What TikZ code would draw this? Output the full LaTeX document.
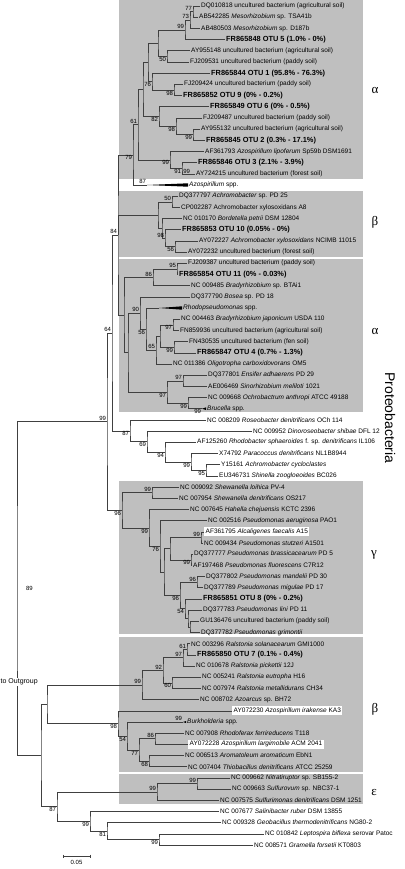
\documentclass[tikz,border=0pt]{standalone}
\usepackage{fontspec}
\setmainfont{Liberation Sans}
\newfontfamily\greekfont{Liberation Serif}
\usetikzlibrary{calc}

% elbow clade: name, x, upper child, lower child
\newcommand{\clade}[4]{%
  \coordinate (#1m) at ($(#3)!0.5!(#4)$);
  \coordinate (#1) at (#2,0 |- #1m);
  \draw[branch] (#3) -| (#1) |- (#4);}

\begin{document}
\begin{tikzpicture}[x=1pt,y=-1pt]

  % Definitions
  \tikzstyle{leaf} = [anchor=west, inner sep=1pt, font=\fontsize{6.5}{7}\selectfont]
  \tikzstyle{otu} = [anchor=west, inner sep=1pt, font=\fontsize{7.4}{8}\selectfont\bfseries]
  \tikzstyle{white} = [leaf, fill=white, inner sep=1.5pt]
  \tikzstyle{branch} = [draw=black!75, line width=0.5pt]
  \tikzstyle{bsup} = [anchor=south east, inner sep=0.8pt, font=\fontsize{6}{7}\selectfont]
  \tikzstyle{bsdown} = [anchor=north east, inner sep=0.8pt, font=\fontsize{6}{7}\selectfont]
  \tikzstyle{box} = [fill=black!25]
  \tikzstyle{greek} = [font=\fontsize{13}{13}\greekfont]

  \useasboundingbox (0,0) rectangle (404,869);

  \fill[box] (119,0) rectangle (363,179);
  \fill[box] (119,191) rectangle (363,257);
  \fill[box] (119,259) rectangle (363,412);
  \fill[box] (119,481) rectangle (363,634);
  \fill[box] (119,637) rectangle (363,772);
  \fill[box] (119,774) rectangle (363,804);

  \node[greek] (alpha1) at (375,90) {α};
  \node[greek] (beta1) at (375,222) {β};
  \node[greek] (alpha2) at (375,331) {α};
  \node[greek] (gamma) at (374,555) {γ};
  \node[greek] (beta2) at (375,709) {β};
  \node[greek] (eps) at (374,792) {ε};
  \node[rotate=-90, font=\fontsize{14}{14}\selectfont] (proteo) at (390,418) {Proteobacteria};

  % leaves
  \node[leaf] (DQ010818) at (200,6.0) {DQ010818 uncultured bacterium (agricultural soil)};
  \node[leaf] (AB542285) at (198,17.2) {AB542285 \textit{Mesorhizobium} sp. TSA41b};
  \node[leaf] (AB480503) at (200,28.4) {AB480503 \textit{Mesorhizobium} sp. D187b};
  \node[otu] (OTU5) at (225,39.6) {FR865848 OTU 5 (1.0\% - 0\%)};
  \node[leaf] (AY955148) at (190,50.7) {AY955148 uncultured bacterium (agricultural soil)};
  \node[leaf] (FJ209531) at (189,61.9) {FJ209531 uncultured bacterium (paddy soil)};
  \node[otu] (OTU1) at (210,73.1) {FR865844 OTU 1 (95.8\% - 76.3\%)};
  \node[leaf] (FJ209424) at (183,84.3) {FJ209424 uncultured bacterium (paddy soil)};
  \node[otu] (OTU9) at (182,95.5) {FR865852 OTU 9 (0\% - 0.2\%)};
  \node[otu] (OTU6) at (209,106.7) {FR865849 OTU 6 (0\% - 0.5\%)};
  \node[leaf] (FJ209487) at (202,117.9) {FJ209487 uncultured bacterium (paddy soil)};
  \node[leaf] (AY955132) at (200,129.1) {AY955132 uncultured bacterium (agricultural soil)};
  \node[otu] (OTU2) at (205,140.2) {FR865845 OTU 2 (0.3\% - 17.1\%)};
  \node[leaf] (AF361793) at (204,151.4) {AF361793 \textit{Azospirillum lipoferum} Sp59b DSM1691};
  \node[otu] (OTU3) at (197,162.6) {FR865846 OTU 3 (2.1\% - 3.9\%)};
  \node[leaf] (AY724215) at (195,173.8) {AY724215 uncultured bacterium (forest soil)};
  \node[leaf] (Azospirillum) at (188,185.0) {\textit{Azospirillum} spp.};
  \node[leaf] (DQ377797) at (178,196.2) {DQ377797 \textit{Achromobacter} sp. PD 25};
  \node[leaf] (CP002287) at (180,207.4) {CP002287 Achromobacter xylosoxidans A8};
  \node[leaf] (NC010170) at (182,218.6) {NC 010170 \textit{Bordetella petrii} DSM 12804};
  \node[otu] (OTU10) at (181,229.7) {FR865853 OTU 10 (0.05\% - 0\%)};
  \node[leaf] (AY072227) at (198,240.9) {AY072227 \textit{Achromobacter xylosoxidans} NCIMB 11015};
  \node[leaf] (AY072232) at (187,252.1) {AY072232 uncultured bacterium (forest soil)};
  \node[leaf] (FJ209387) at (187,263.3) {FJ209387 uncultured bacterium (paddy soil)};
  \node[otu] (OTU11) at (178,274.5) {FR865854 OTU 11 (0\% - 0.03\%)};
  \node[leaf] (NC009485) at (190,285.7) {NC 009485 \textit{Bradyrhizobium} sp. BTAi1};
  \node[leaf] (DQ377790) at (190,296.9) {DQ377790 \textit{Bosea} sp. PD 18};
  \node[leaf] (Rhodopseudomonas) at (182,308.0) {\textit{Rhodopseudomonas} spp.};
  \node[leaf] (NC004463) at (180,319.2) {NC 004463 \textit{Bradyrhizobium japonicum} USDA 110};
  \node[leaf] (FN859936) at (179,330.4) {FN859936 uncultured bacterium (agricultural soil)};
  \node[leaf] (FN430535) at (188,341.6) {FN430535 uncultured bacterium (fen soil)};
  \node[otu] (OTU4) at (196,352.8) {FR865847 OTU 4 (0.7\% - 1.3\%)};
  \node[leaf] (NC011386) at (172,364.0) {NC 011386 \textit{Oligotropha carboxidovorans} OM5};
  \node[leaf] (DQ377801) at (207,375.2) {DQ377801 \textit{Ensifer adhaerens} PD 29};
  \node[leaf] (AE006469) at (207,386.4) {AE006469 \textit{Sinorhizobium meliloti} 1021};
  \node[leaf] (NC009668) at (207,397.5) {NC 009668 \textit{Ochrobactrum anthropi} ATCC 49188};
  \node[leaf] (Brucella) at (206,408.7) {\textit{Brucella} spp.};
  \node[leaf] (NC008209) at (206,419.9) {NC 008209 \textit{Roseobacter denitrificans} OCh 114};
  \node[leaf] (NC009952) at (252,431.1) {NC 009952 \textit{Dinoroseobacter shibae} DFL 12};
  \node[leaf] (AF125260) at (196,442.3) {AF125260 \textit{Rhodobacter sphaeroides} f. sp. \textit{denitrificans} IL106};
  \node[leaf] (X74792) at (218,453.5) {X74792 \textit{Paracoccus denitrificans} NL1B8944};
  \node[leaf] (Y15161) at (220,464.7) {Y15161 \textit{Achromobacter cycloclastes}};
  \node[leaf] (EU346731) at (218,475.9) {EU346731 \textit{Shinella zoogloeoides} BC026};
  \node[leaf] (NC009092) at (179,487.0) {NC 009092 \textit{Shewanella loihica} PV-4};
  \node[leaf] (NC007954) at (178,498.2) {NC 007954 \textit{Shewanella denitrificans} OS217};
  \node[leaf] (NC007645) at (189,509.4) {NC 007645 \textit{Hahella chejuensis} KCTC 2396};
  \node[leaf] (NC002516) at (207,520.6) {NC 002516 \textit{Pseudomonas aeruginosa} PAO1};
  \node[white] (AF361795) at (204,531.8) {AF361795 \textit{Alcaligenes faecalis} A15};
  \node[leaf] (NC009434) at (203,543.0) {NC 009434 \textit{Pseudomonas stutzeri} A1501};
  \node[leaf] (DQ377777) at (193,554.2) {DQ377777 \textit{Pseudomonas brassicacearum} PD 5};
  \node[leaf] (AF197468) at (192,565.3) {AF197468 \textit{Pseudomonas fluorescens} C7R12};
  \node[leaf] (DQ377802) at (205,576.5) {DQ377802 \textit{Pseudomonas mandelii} PD 30};
  \node[leaf] (DQ377789) at (203,587.7) {DQ377789 \textit{Pseudomonas migulae} PD 17};
  \node[otu] (OTU8) at (202,598.9) {FR865851 OTU 8 (0\% - 0.2\%)};
  \node[leaf] (DQ377783) at (202,610.1) {DQ377783 \textit{Pseudomonas lini} PD 11};
  \node[leaf] (GU136476) at (199,621.3) {GU136476 uncultured bacterium (paddy soil)};
  \node[leaf] (DQ377782) at (200,632.5) {DQ377782 \textit{Pseudomonas grimontii}};
  \node[leaf] (NC003296) at (190,643.7) {NC 003296 \textit{Ralstonia solanacearum} GMI1000};
  \node[otu] (OTU7) at (196,654.8) {FR865850 OTU 7 (0.1\% - 0.4\%)};
  \node[leaf] (NC010678) at (195,666.0) {NC 010678 \textit{Ralstonia pickettii} 12J};
  \node[leaf] (NC005241) at (201,677.2) {NC 005241 \textit{Ralstonia eutropha} H16};
  \node[leaf] (NC007974) at (201,688.4) {NC 007974 \textit{Ralstonia metallidurans} CH34};
  \node[leaf] (NC008702) at (199,699.6) {NC 008702 \textit{Azoarcus} sp. BH72};
  \node[white] (AY072230) at (232,710.8) {AY072230 \textit{Azospirillum irakense} KA3};
  \node[leaf] (Burkholderia) at (186,722.0) {\textit{Burkholderia} spp.};
  \node[leaf] (NC007908) at (184,733.1) {NC 007908 \textit{Rhodoferax ferrireducens} T118};
  \node[white] (AY072228) at (188,744.3) {AY072228 \textit{Azospirillum largimobile} ACM 2041};
  \node[leaf] (NC006513) at (184,755.5) {NC 006513 \textit{Aromatoleum aromaticum} EbN1};
  \node[leaf] (NC007404) at (187,766.7) {NC 007404 \textit{Thiobacillus denitrificans} ATCC 25259};
  \node[leaf] (NC009662) at (230,777.9) {NC 009662 \textit{Nitratiruptor} sp. SB155-2};
  \node[leaf] (NC009663) at (231,789.1) {NC 009663 \textit{Sulfurovum} sp. NBC37-1};
  \node[leaf] (NC007575) at (219,800.3) {NC 007575 \textit{Sulfurimonas denitrificans} DSM 1251};
  \node[leaf] (NC007677) at (219,811.5) {NC 007677 \textit{Salinibacter ruber} DSM 13855};
  \node[leaf] (NC009328) at (221,822.6) {NC 009328 \textit{Geobacillus thermodenitrificans} NG80-2};
  \node[leaf] (NC010842) at (264,833.8) {NC 010842 \textit{Leptospira biflexa} serovar Patoc};
  \node[leaf] (NC008571) at (253,845.0) {NC 008571 \textit{Gramella forsetii} KT0803};

  % collapsed clades
  \coordinate (AzoStem) at (147,185.0);
  \coordinate (RhoStem) at (159,308.0);
  \coordinate (BruStem) at (202,408.7);
  \coordinate (BurStem) at (183,722.0);
  \fill (AzoStem) -- ([yshift=1.7pt]Azospirillum.west) -- ([yshift=-1.7pt]Azospirillum.west) -- cycle;
  \fill (RhoStem) -- ([yshift=1.7pt]Rhodopseudomonas.west) -- ([yshift=-1.7pt]Rhodopseudomonas.west) -- cycle;
  \fill (BruStem) -- ([yshift=1.3pt]Brucella.west) -- ([yshift=-1.3pt]Brucella.west) -- cycle;
  \fill (BurStem) -- ([yshift=1pt]Burkholderia.west) -- ([yshift=-1pt]Burkholderia.west) -- cycle;

  % alpha 1
  \clade{a1}{193}{DQ010818}{AB542285}
  \clade{a2}{190}{a1}{AB480503}
  \clade{a3}{185}{a2}{OTU5}
  \clade{a4}{167}{AY955148}{FJ209531}
  \clade{a5}{158}{a3}{a4}
  \clade{a6}{174}{FJ209424}{OTU9}
  \clade{a7}{152}{OTU1}{a6}
  \clade{a8}{148}{a5}{a7}
  \clade{a9}{193}{AY955132}{OTU2}
  \clade{a10}{176}{FJ209487}{a9}
  \clade{a11}{159}{OTU6}{a10}
  \clade{a12}{143}{a8}{a11}
  \clade{a13}{182}{OTU3}{AY724215}
  \clade{a14}{170}{AF361793}{a13}
  \clade{a15}{138}{a12}{a14}
  \clade{a16}{133}{a15}{AzoStem}
  % beta 1
  \clade{b1}{172}{DQ377797}{CP002287}
  \clade{b2}{175}{AY072227}{AY072232}
  \clade{b3}{165}{OTU10}{b2}
  \clade{b4}{162}{NC010170}{b3}
  \clade{b5}{158}{b1}{b4}
  % alpha 2
  \clade{c1}{177}{FJ209387}{OTU11}
  \clade{c2}{153}{c1}{NC009485}
  \clade{c3}{173}{NC004463}{FN859936}
  \clade{c4}{174}{FN430535}{OTU4}
  \clade{c5}{160}{c3}{c4}
  \clade{c6}{156}{c5}{NC011386}
  \clade{c7}{146}{RhoStem}{c6}
  \clade{c8}{140}{DQ377790}{c7}
  \clade{d1}{183}{DQ377801}{AE006469}
  \clade{d2}{188}{NC009668}{BruStem}
  \clade{d3}{167}{d1}{d2}
  \clade{c9}{128}{c8}{d3}
  \clade{c10}{124}{c2}{c9}
  % upper backbone
  \clade{t1}{118}{a16}{c10}
  \draw[branch] (b5) -| (t1);
  % Rhodobacteraceae
  \clade{e1}{206}{Y15161}{EU346731}
  \clade{e2}{191}{X74792}{e1}
  \clade{e3}{165}{AF125260}{e2}
  \clade{e4}{147}{NC009952}{e3}
  \clade{e5}{130}{NC008209}{e4}
  \clade{t2}{112}{t1}{e5}
  % gamma
  \clade{g1}{152}{NC009092}{NC007954}
  \clade{g2}{201}{AF361795}{NC009434}
  \clade{g3}{191}{DQ377777}{AF197468}
  \clade{g4}{170}{g2}{g3}
  \clade{g5}{197}{DQ377802}{DQ377789}
  \clade{g6}{190}{GU136476}{DQ377782}
  \clade{g7}{188}{DQ377783}{g6}
  \clade{g8}{185}{OTU8}{g7}
  \clade{g9}{180}{g5}{g8}
  \clade{g10}{164}{g4}{g9}
  \clade{g11}{160}{NC002516}{g10}
  \clade{g12}{149}{NC007645}{g11}
  \clade{g13}{122}{g1}{g12}
  \clade{t3}{107}{t2}{g13}
  % beta 2
  \clade{h1}{187}{NC003296}{OTU7}
  \clade{h2}{183}{h1}{NC010678}
  \clade{h3}{172}{NC005241}{NC007974}
  \clade{h4}{163}{h2}{h3}
  \clade{h5}{142}{h4}{NC008702}
  \clade{h6}{155}{NC007908}{AY072228}
  \clade{h7}{149}{NC006513}{NC007404}
  \clade{h8}{139}{h6}{h7}
  \clade{h9}{127}{BurStem}{h8}
  \clade{h10}{118}{AY072230}{h9}
  \clade{h11}{47}{h5}{h10}
  % epsilon and others
  \clade{k1}{197}{NC009662}{NC009663}
  \clade{k2}{157}{k1}{NC007575}
  \clade{k3}{159}{NC010842}{NC008571}
  \clade{k4}{107}{NC009328}{k3}
  \clade{k5}{90}{NC007677}{k4}
  \clade{k6}{57}{k2}{k5}
  % lower backbone
  \clade{m1}{41}{h11}{k6}
  \clade{m2}{17}{t3}{m1}
  \node[leaf, fill=white, inner sep=0.5pt, font=\fontsize{7}{8}\selectfont] (outgroup) at (0,682) {to Outgroup};

  % scale bar
  \coordinate (sb0) at (63,856);
  \coordinate (sb1) at (90,856);
  \draw[branch] (sb0) -- (sb1) ([yshift=1.5pt]sb0) -- ([yshift=-1.5pt]sb0) ([yshift=1.5pt]sb1) -- ([yshift=-1.5pt]sb1);
  \node[bsup, anchor=north] (sblabel) at ($(sb0)!0.5!(sb1)+(0,3.5)$) {0.05};

  % bootstrap
  \node[bsup] at (a1) {77};
  \node[bsup] at (a2) {73};
  \node[bsup] at (a3) {99};
  \node[bsdown] at (a4) {50};
  \node[bsdown] at (a6) {98};
  \node[bsdown] at (a7) {76};
  \node[bsdown] at (a11) {82};
  \node[bsdown] at (a10) {98};
  \node[bsdown] at (a9) {99};
  \node[bsup] at (a15) {61};
  \node[bsdown] at (a16) {79};
  \node[bsdown] at (a14) {99};
  \node[bsdown] at (a13) {91};
  \node[bsdown] at ([xshift=9pt]a13) {99};
  \node[bsup] at (AzoStem) {87};
  \node[bsup] at (b1) {50};
  \node[bsup] at (b3) {98};
  \node[bsdown] at (b2) {56};
  \node[bsup] at (t1) {84};
  \node[bsup] at (c1) {95};
  \node[bsup] at (c2) {86};
  \node[bsup] at (c8) {90};
  \node[bsdown] at (c7) {56};
  \node[bsdown] at (c3) {97};
  \node[bsup] at (c6) {65};
  \node[bsdown] at (c4) {99};
  \node[bsup] at (d1) {97};
  \node[bsdown] at (d3) {97};
  \node[bsdown] at (d2) {99};
  \node[bsdown] at (BruStem) {99};
  \node[bsup] at (t2) {64};
  \node[bsup] at (t3) {99};
  \node[bsdown] at (e5) {87};
  \node[bsdown] at (e4) {69};
  \node[bsdown] at (e3) {94};
  \node[bsdown] at (e2) {99};
  \node[bsdown] at (e1) {95};
  \node[bsup] at (g1) {99};
  \node[bsdown] at (g13) {96};
  \node[bsdown] at (g12) {99};
  \node[bsdown] at (g11) {76};
  \node[bsup] at (g2) {99};
  \node[bsdown] at (g3) {99};
  \node[bsup] at (g5) {96};
  \node[bsdown] at (g9) {96};
  \node[bsdown] at (g8) {54};
  \node[bsup] at (h1) {61};
  \node[bsup] at (h2) {97};
  \node[bsup] at (h4) {92};
  \node[bsup] at (h5) {99};
  \node[bsdown] at (h3) {60};
  \node[bsup] at (BurStem) {99};
  \node[bsdown] at (h10) {98};
  \node[bsdown] at (h9) {54};
  \node[bsup] at (h6) {86};
  \node[bsdown] at (h8) {77};
  \node[bsdown] at (h7) {68};
  \node[bsup] at (k1) {99};
  \node[bsup] at (k2) {99};
  \node[bsdown] at (k6) {87};
  \node[bsdown] at (k5) {99};
  \node[bsdown] at (k4) {81};
  \node[bsdown] at (k3) {99};
  \node[bsdown, anchor=west] at ([xshift=8pt]m2) {89};

\end{tikzpicture}
\end{document}
